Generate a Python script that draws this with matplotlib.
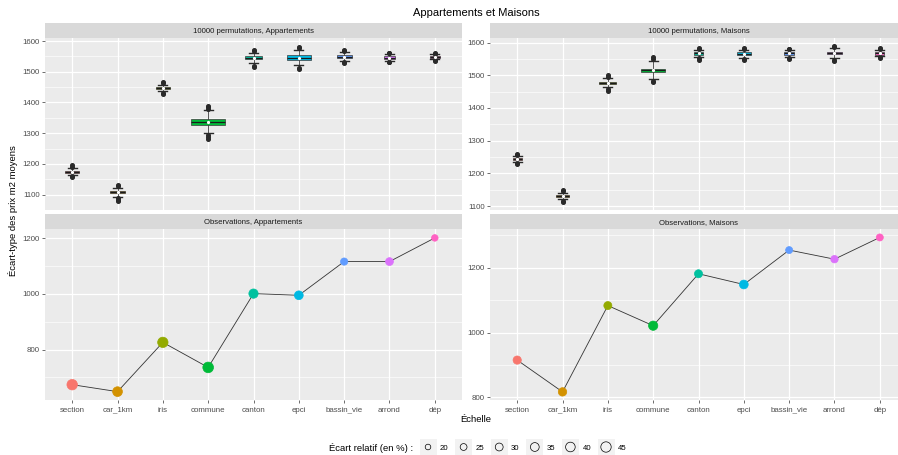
import numpy as np
import matplotlib.pyplot as plt
import matplotlib.transforms as mtransforms
from matplotlib.patches import Rectangle
from matplotlib.ticker import MultipleLocator

plt.rcParams['font.family'] = ['Liberation Sans', 'DejaVu Sans']

W, H = 898, 455

# geographic scales (x axis) and ggplot hue palette
scales = ['section', 'car_1km', 'iris', 'commune', 'canton', 'epci', 'bassin_vie', 'arrond', 'dép']
hue = ['#F8766D', '#D39200', '#93AA00', '#00BA38', '#00C19F', '#00B9E3', '#619CFF', '#DB72FB', '#FF61C3']

# 10000 permutations, Appartements : box statistics
appt_q1 = [1172, 1104, 1444, 1328, 1542, 1538, 1545, 1542, 1545]
appt_med = [1175, 1107, 1447, 1337, 1546, 1546, 1549, 1546, 1549]
appt_q3 = [1178, 1111, 1450, 1347, 1551, 1554, 1553, 1550, 1552]
appt_wlo = [1163, 1091, 1436, 1302, 1528, 1521, 1536, 1536, 1541]
appt_whi = [1187, 1123, 1458, 1375, 1562, 1572, 1564, 1557, 1557]
appt_out = [[1156, 1160, 1191, 1195], [1078, 1083, 1088, 1127, 1132], [1428, 1432, 1462, 1466],
            [1281, 1287, 1294, 1380, 1385, 1390], [1515, 1520, 1566, 1570], [1508, 1513, 1577, 1582],
            [1527, 1531, 1568, 1572], [1531, 1533, 1560, 1562], [1536, 1538, 1559, 1561]]

# 10000 permutations, Maisons : box statistics
mais_q1 = [1240, 1128, 1474, 1510, 1563, 1562, 1563, 1564, 1563]
mais_med = [1243, 1131, 1477, 1515, 1567, 1566, 1567, 1568, 1567]
mais_q3 = [1246, 1134, 1480, 1520, 1571, 1570, 1571, 1572, 1571]
mais_wlo = [1235, 1121, 1463, 1488, 1557, 1553, 1557, 1552, 1558]
mais_whi = [1252, 1141, 1491, 1543, 1576, 1577, 1576, 1582, 1576]
mais_out = [[1229, 1232, 1256, 1260], [1112, 1116, 1145, 1149], [1452, 1457, 1496, 1501],
            [1478, 1483, 1549, 1555], [1548, 1552, 1580, 1583], [1546, 1549, 1581, 1584],
            [1550, 1553, 1579, 1581], [1543, 1547, 1586, 1589], [1552, 1555, 1579, 1582]]

# box widths (varwidth)
appt_width = [0.31, 0.32, 0.31, 0.75, 0.37, 0.53, 0.33, 0.26, 0.22]
mais_width = [0.20, 0.29, 0.38, 0.53, 0.18, 0.31, 0.22, 0.33, 0.20]

# observed standard deviation and relative deviation (%)
appt_obs = [674, 649, 826, 736, 1001, 995, 1116, 1116, 1201]
appt_rel = [46, 41, 45, 47, 38, 35, 27, 30, 24]
mais_obs = [915, 817, 1083, 1021, 1181, 1148, 1254, 1226, 1293]
mais_rel = [32, 33, 31, 38, 31, 35, 26, 28, 26]

legend_breaks = [20, 25, 30, 35, 40, 45]


def size_pt2(v):
    # marker area grows linearly with the relative deviation
    area_px = 31.2 + 3.05 * (np.asarray(v, dtype=float) - 20)
    return area_px * (72 / 100) ** 2


def add_px_axes(fig, x0, y0, x1, y1):
    return fig.add_axes([x0 / W, 1 - y1 / H, (x1 - x0) / W, (y1 - y0) / H])


def style_panel(ax, ylim, major, minor, show_x):
    ax.set_facecolor('#EBEBEB')
    for s in ax.spines.values():
        s.set_visible(False)
    ax.set_xlim(0.4, len(scales) + 0.6)
    ax.set_ylim(*ylim)
    ax.yaxis.set_major_locator(MultipleLocator(major))
    ax.yaxis.set_minor_locator(MultipleLocator(minor))
    ax.set_xticks(np.arange(1, len(scales) + 1))
    ax.set_xticklabels([''] * len(scales))
    ax.grid(True, which='major', color='white', lw=0.9)
    ax.grid(True, which='minor', axis='y', color='white', lw=0.45)
    ax.set_axisbelow(True)
    ax.tick_params(which='major', length=2.2, width=0.5, color='#333333',
                   labelsize=5.7, labelcolor='#4D4D4D', pad=1.5)
    ax.tick_params(which='minor', length=0)
    if show_x:
        # category labels on a common baseline below the panel
        trans = mtransforms.offset_copy(ax.get_xaxis_transform(), fig=ax.figure,
                                        x=0, y=-8.3, units='points')
        for x, name in zip(np.arange(1, len(scales) + 1), scales):
            ax.text(x, 0, name, transform=trans, ha='center', va='baseline',
                    fontsize=5.7, color='#4D4D4D', clip_on=False)
    else:
        ax.tick_params(axis='x', length=0)


def strip(fig, x0, y0, x1, y1, label):
    sa = add_px_axes(fig, x0, y0, x1, y1)
    sa.set_facecolor('#D9D9D9')
    sa.set_xticks([])
    sa.set_yticks([])
    for s in sa.spines.values():
        s.set_visible(False)
    sa.text(0.5, 0.47, label, ha='center', va='center_baseline', fontsize=5.6,
            color='#1A1A1A', transform=sa.transAxes)


def boxes(ax, q1, med, q3, wlo, whi, out, widths):
    stats = []
    for i in range(len(scales)):
        stats.append(dict(q1=q1[i], med=med[i], q3=q3[i], whislo=wlo[i], whishi=whi[i],
                          fliers=out[i], mean=med[i]))
    bp = ax.bxp(stats, positions=np.arange(1, len(scales) + 1), widths=widths,
                patch_artist=True, showmeans=True, capwidths=0.2, manage_ticks=False,
                boxprops=dict(edgecolor='#3A3A3A', lw=0.5),
                medianprops=dict(color='#1A1A1A', lw=0.9),
                whiskerprops=dict(color='#3A3A3A', lw=0.6),
                capprops=dict(color='#2A2A2A', lw=1.0),
                flierprops=dict(marker='o', markersize=2.6, markerfacecolor='#2A2A2A',
                                markeredgecolor='#2A2A2A'),
                meanprops=dict(marker='o', markersize=1.3, markerfacecolor='white',
                               markeredgecolor='white'))
    for patch, c in zip(bp['boxes'], hue):
        patch.set_facecolor(c)


def observations(ax, obs, rel):
    x = np.arange(1, len(scales) + 1)
    ax.plot(x, obs, color='#333333', lw=0.6, zorder=2)
    ax.scatter(x, obs, s=size_pt2(rel), c=hue, edgecolors=hue, linewidths=0.5, zorder=3)


fig = plt.figure(figsize=(W / 100, H / 100), dpi=100)

lx0, lx1 = 45, 462
rx0, rx1 = 490, 907

# top row: permutations
strip(fig, lx0, 23, lx1, 38, '10000 permutations, Appartements')
strip(fig, rx0, 23, rx1, 38, '10000 permutations, Maisons')
ax_tl = add_px_axes(fig, lx0, 38, lx1, 210)
ax_tr = add_px_axes(fig, rx0, 38, rx1, 210)
boxes(ax_tl, appt_q1, appt_med, appt_q3, appt_wlo, appt_whi, appt_out, appt_width)
boxes(ax_tr, mais_q1, mais_med, mais_q3, mais_wlo, mais_whi, mais_out, mais_width)
style_panel(ax_tl, (1050, 1609.8), 100, 50, False)
style_panel(ax_tr, (1088, 1614), 100, 50, False)

# bottom row: observations
strip(fig, lx0, 214, lx1, 229, 'Observations, Appartements')
strip(fig, rx0, 214, rx1, 229, 'Observations, Maisons')
ax_bl = add_px_axes(fig, lx0, 229, lx1, 400)
ax_br = add_px_axes(fig, rx0, 229, rx1, 400)
observations(ax_bl, appt_obs, appt_rel)
observations(ax_br, mais_obs, mais_rel)
style_panel(ax_bl, (619, 1233), 200, 100, True)
style_panel(ax_br, (792, 1319), 200, 100, True)

# titles
cx = (lx0 + rx1) / 2
fig.text(cx / W, 1 - 13 / H, 'Appartements et Maisons', ha='center', va='center', fontsize=8)
fig.text(cx / W, 1 - 420 / H, 'Échelle', ha='center', va='center', fontsize=6.8)
fig.text(13 / W, 1 - 211 / H, 'Écart-type des prix m2 moyens', rotation=90,
         ha='center', va='center', fontsize=6.8)

# size legend
lg = fig.add_axes([0, 0, 1, 40 / H])
lg.set_xlim(0, W)
lg.set_ylim(H, H - 40)
lg.axis('off')
lg.text(329, 447, 'Écart relatif (en %) :', ha='left', va='center_baseline', fontsize=6.8)
for i, v in enumerate(legend_breaks):
    kx = 428 + 35.6 * i
    lg.add_patch(Rectangle((kx - 8.5, 438.5), 17, 17, facecolor='#F2F2F2', edgecolor='none'))
    lg.scatter([kx], [447], s=size_pt2(v), facecolors='none', edgecolors='black', linewidths=0.5)
    lg.text(kx + 12, 447, str(v), ha='left', va='center_baseline', fontsize=5.6)

fig.savefig('out.png', dpi=100)
